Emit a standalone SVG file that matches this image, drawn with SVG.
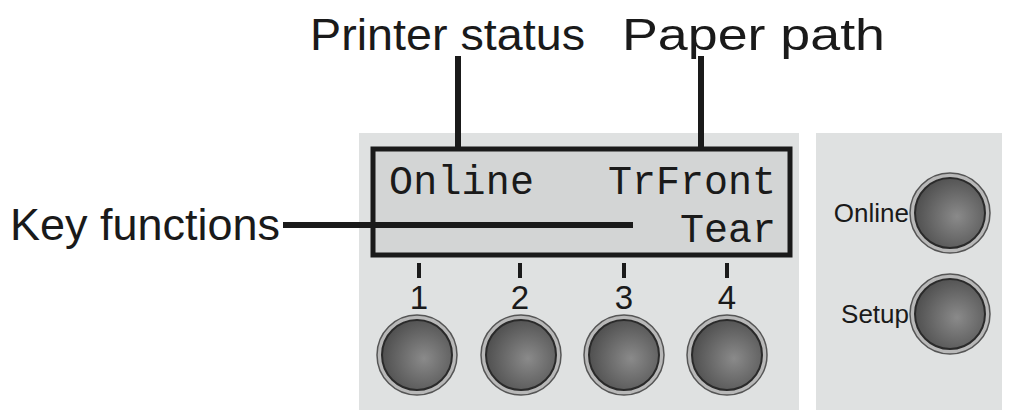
<svg xmlns="http://www.w3.org/2000/svg" width="1009" height="415" viewBox="0 0 1009 415">
<style>
.lab{font-family:"Liberation Sans",Arial,sans-serif;fill:#1a1a1a}
.mono{font-family:"Liberation Mono","Courier New",monospace;fill:#1a1a1a;font-size:40px}
.ln{stroke:#1a1a1a;stroke-width:6;fill:none}
.tick{stroke:#1a1a1a;stroke-width:4}
</style>
<defs>
<radialGradient id="g" cx="0.6" cy="0.55" r="0.6"><stop offset="0" stop-color="#8a8a8a"/><stop offset="1" stop-color="#505050"/></radialGradient>
<g id="btn"><circle r="40" fill="#b8b8b8" stroke="#555" stroke-width="1.5"/><circle r="35" fill="url(#g)" stroke="#2a2a2a" stroke-width="2"/></g>
</defs>
<rect width="1009" height="415" fill="#fff"/>
<g id="panel-left"><rect x="359" y="133" width="440" height="277" fill="#dfe1e1"/></g>
<g id="panel-right"><rect x="816" y="133" width="186" height="277" fill="#dfe1e1"/></g>
<g id="lcd"><rect x="373" y="149" width="417" height="106" fill="#d3d5d5" stroke="#1a1a1a" stroke-width="5"/>
<text class="mono" x="389" y="194" textLength="145">Online</text>
<text class="mono" x="776" y="194" text-anchor="end">TrFront</text>
<text class="mono" x="776" y="242" text-anchor="end">Tear</text></g>
<g id="connectors">
<line class="ln" x1="458" y1="56" x2="458" y2="149"/>
<line class="ln" x1="701" y1="56" x2="701" y2="149"/>
<line class="ln" x1="283" y1="225" x2="633" y2="225"/>
</g>
<g id="labels">
<text class="lab" x="310" y="50" font-size="44" textLength="275" lengthAdjust="spacingAndGlyphs">Printer status</text>
<text class="lab" x="622" y="50" font-size="44" textLength="263" lengthAdjust="spacingAndGlyphs">Paper path</text>
<text class="lab" x="10" y="240" font-size="44" textLength="270" lengthAdjust="spacingAndGlyphs">Key functions</text>
</g>
<g id="keys">
<line class="tick" x1="419" y1="263" x2="419" y2="278"/>
<line class="tick" x1="520" y1="263" x2="520" y2="278"/>
<line class="tick" x1="624" y1="263" x2="624" y2="278"/>
<line class="tick" x1="727" y1="263" x2="727" y2="278"/>
<text class="lab" font-size="33" text-anchor="middle" x="419" y="309">1</text>
<text class="lab" font-size="33" text-anchor="middle" x="520" y="309">2</text>
<text class="lab" font-size="33" text-anchor="middle" x="624" y="309">3</text>
<text class="lab" font-size="33" text-anchor="middle" x="727" y="309">4</text>
<use href="#btn" x="417" y="355"/>
<use href="#btn" x="521" y="355"/>
<use href="#btn" x="624" y="355"/>
<use href="#btn" x="727" y="355"/>
</g>
<g id="btn-online"><use href="#btn" x="950" y="213"/><text class="lab" font-size="26" x="909" y="222" text-anchor="end">Online</text></g>
<g id="btn-setup"><use href="#btn" x="950" y="314"/><text class="lab" font-size="26" x="909" y="323" text-anchor="end">Setup</text></g>
</svg>
